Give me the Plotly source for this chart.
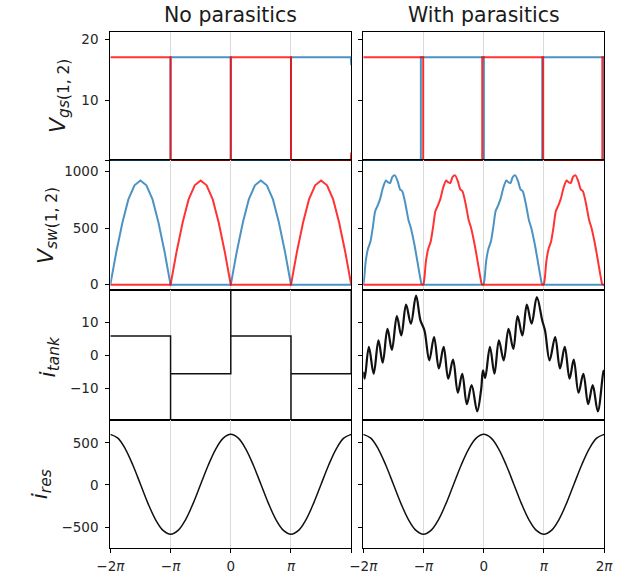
import plotly.graph_objects as go

PI = 3.141592653589793
TWO_PI = 2 * PI

# ---------------- data ----------------
col_titles = ["No parasitics", "With parasitics"]
x_tickvals_left = [-TWO_PI, -PI, 0.0, PI]
x_ticktext_left = ["\u22122<i>\u03c0</i>", "\u2212<i>\u03c0</i>", "0", "<i>\u03c0</i>"]
x_tickvals_right = [-TWO_PI, -PI, 0.0, PI, TWO_PI]
x_ticktext_right = ["\u22122<i>\u03c0</i>", "\u2212<i>\u03c0</i>", "0", "<i>\u03c0</i>", "2<i>\u03c0</i>"]

# Row 1 : gate voltages
vgs_high = 17.1
vgs_np_x = [-TWO_PI, -PI, -PI, 0.0, 0.0, PI, PI, 6.26, TWO_PI]
vgs_np_red = [vgs_high, vgs_high, 0, 0, vgs_high, vgs_high, 0, 0, 1.3]
vgs_np_blue = [0, 0, vgs_high, vgs_high, 0, 0, vgs_high, vgs_high, 15.8]

vgs_p_red_x = [-TWO_PI, -3.157, -3.157, -0.077, -0.077, 3.104, 3.104, 6.189, 6.189, TWO_PI]
vgs_p_red = [vgs_high, vgs_high, 0, 0, vgs_high, vgs_high, 0, 0, vgs_high, vgs_high]
vgs_p_blue_x = [-TWO_PI, -3.278, -3.278, 0.008, 0.008, 3.054, 3.054, 6.27, 6.27, TWO_PI]
vgs_p_blue = [0, 0, vgs_high, vgs_high, 0, 0, vgs_high, vgs_high, 0, 0]

# Row 2 : switch voltages (one pulse shape, phase in rad from pulse start)
vsw_np_phase = [0.0, 0.31, 0.63, 0.94, 1.26, 1.57, 1.88, 2.20, 2.51, 2.83, 3.14]
vsw_np_vals = [0, 290, 550, 755, 880, 923, 880, 755, 550, 290, 0]
vsw_p_phase = [0.0, 0.05, 0.13, 0.25, 0.38, 0.50, 0.62, 0.76, 0.88, 1.03, 1.18, 1.30,
               1.40, 1.52, 1.65, 1.80, 1.92, 2.04, 2.20, 2.36, 2.48, 2.64, 2.80, 2.92,
               3.03, 3.06]
vsw_p_vals = [0, 60, 210, 320, 385, 510, 650, 705, 760, 860, 922, 905,
              900, 955, 968, 912, 844, 826, 715, 570, 505, 380, 230, 110,
              10, 0]
blue_pulse_starts = [-TWO_PI, 0.0]
red_pulse_starts = [-PI, PI]

# Row 3 : tank current
itank_np_x = [-TWO_PI, -PI, -PI, -PI, 0.0, 0.0, 0.0, PI, PI, PI, TWO_PI, TWO_PI]
itank_np = [5.9, 5.9, -40, -5.6, -5.6, 40, 5.9, 5.9, -40, -5.6, -5.6, 40]

itank_p_x = [-6.283, -6.21, -5.99, -5.74, -5.49, -5.27, -5.02, -4.79, -4.53, -4.30,
             -4.05, -3.80, -3.53, -3.30, -3.09, -2.84, -2.59, -2.34, -2.09, -1.85,
             -1.60, -1.35, -1.12, -0.88, -0.63, -0.34, -0.13, -0.04, 0.074, 0.325,
             0.561, 0.793, 1.044, 1.295, 1.546, 1.767, 2.018, 2.250, 2.501, 2.772,
             3.054, 3.20, 3.44, 3.727, 3.978, 4.229, 4.48, 4.697, 4.948, 5.199,
             5.45, 5.687, 5.953, 6.24, 6.283]
itank_p = [-5.0, -7.1, 2.6, -5.6, 4.6, -2.2, 8.1, 1.7, 12.0, 6.1,
           15.5, 9.7, 18.3, 10.7, 7.6, -1.5, 5.6, -4.0, 2.6, -7.1,
           -1.3, -11.4, -5.6, -14.9, -9.1, -17.1, -10.2, -4.6, -6.9, 2.6,
           -5.6, 4.6, -1.5, 8.1, 2.0, 12.0, 6.1, 15.5, 9.7, 17.8,
           10.7, 7.6, -1.5, 5.6, -4.0, 2.6, -7.1, -1.3, -11.4, -5.6,
           -14.9, -9.1, -17.1, -5.1, -4.5]

# Row 4 : resonant current (samples every pi/8)
ires_x = [k * PI / 8 for k in range(-16, 17)]
ires = [600, 555, 426, 234, 8, -219, -411, -540, -585, -540, -411, -219, 8, 234, 426, 555,
        600, 555, 426, 234, 8, -219, -411, -540, -585, -540, -411, -219, 8, 234, 426, 555, 600]

row_ranges = [[0, 21.3], [-47, 1100], [-19.6, 20.0], [-750, 776]]
row_tickvals = [[10, 20], [0, 500, 1000], [-10, 0, 10], [-500, 0, 500]]
row_ticktext = [["10", "20"], ["0", "500", "1000"], ["\u221210", "0", "10"],
                ["\u2212500", "0", "500"]]
row_minor_ticks = [[0], [], [], []]
row_labels = ["<i>V</i><sub><i>gs</i>(1, 2)</sub>", "<i>V</i><sub><i>sw</i>(1, 2)</sub>",
              "<i>i</i><sub><i>tank</i></sub>", "<i>i</i><sub><i>res</i></sub>"]

BLUE = "rgba(31,119,180,0.8)"
RED = "rgba(255,0,0,0.8)"
BLACK = "#111111"
FONT = "DejaVu Sans"

W, H = 630, 578
col_px = [(100, 350), (362.5, 612.5)]
row_px = [(32, 161), (161, 291), (291, 421), (421, 550)]
label_pos = [(47, 96), (34, 226), (37, 358), (28, 486)]


def px_x(px):
    return px / W


def px_y(py):
    return 1 - py / H


def pulse_segments(starts, phase, vals):
    """Pulses as separate smooth pieces, flat zero pieces in between."""
    xs, ys = [], []
    prev_end = -TWO_PI
    for s in starts:
        if s > prev_end:
            xs += [prev_end, s, None]
            ys += [0, 0, None]
        for p, v in zip(phase, vals):
            xs.append(s + p)
            ys.append(v)
        xs.append(None)
        ys.append(None)
        prev_end = s + phase[-1]
    if prev_end < TWO_PI:
        xs += [prev_end, TWO_PI]
        ys += [0, 0]
    return xs, ys


def pulse_train(starts, phase, vals):
    xs, ys = [-TWO_PI], [0]
    for s in starts:
        for p, v in zip(phase, vals):
            xs.append(s + p)
            ys.append(v)
    xs.append(TWO_PI)
    ys.append(0)
    return xs, ys


fig = go.Figure()


def idx(r, c):
    return r * 2 + c + 1


def add(r, c, x, y, color, width, shape="linear", smoothing=1.0):
    i = idx(r, c)
    fig.add_trace(go.Scatter(x=x, y=y, mode="lines",
                             line=dict(color=color, width=width, shape=shape,
                                       smoothing=smoothing),
                             connectgaps=False,
                             xaxis="x%d" % i, yaxis="y%d" % i, showlegend=False,
                             hoverinfo="skip"))


# row 1
add(0, 0, vgs_np_x, vgs_np_blue, BLUE, 2)
add(0, 0, vgs_np_x, vgs_np_red, RED, 2)
add(0, 1, vgs_p_blue_x, vgs_p_blue, BLUE, 2)
add(0, 1, vgs_p_red_x, vgs_p_red, RED, 2)
# row 2
bx, by = pulse_train(blue_pulse_starts, vsw_np_phase, vsw_np_vals)
rx, ry = pulse_train(red_pulse_starts, vsw_np_phase, vsw_np_vals)
add(1, 0, bx, by, BLUE, 2)
add(1, 0, rx, ry, RED, 2)
bx, by = pulse_segments(blue_pulse_starts, vsw_p_phase, vsw_p_vals)
rx, ry = pulse_segments(red_pulse_starts, vsw_p_phase, vsw_p_vals)
add(1, 1, bx, by, BLUE, 2, "spline", 0.6)
add(1, 1, rx, ry, RED, 2, "spline", 0.6)
# row 3
add(2, 0, itank_np_x, itank_np, BLACK, 1.5)
add(2, 1, itank_p_x, itank_p, BLACK, 2.2, "spline")
# row 4
add(3, 0, ires_x, ires, BLACK, 1.5, "spline")
add(3, 1, ires_x, ires, BLACK, 1.5, "spline")

layout = dict(width=W, height=H, margin=dict(l=0, r=0, t=0, b=0),
              paper_bgcolor="white", plot_bgcolor="white",
              font=dict(family=FONT, size=13.5, color="#262626"))

for r in range(4):
    for c in range(2):
        i = idx(r, c)
        bottom = (r == 3)
        x0, x1 = col_px[c]
        y0, y1 = row_px[r]
        xa = dict(
            domain=[px_x(x0), px_x(x1)], anchor="y%d" % i, range=[-TWO_PI, TWO_PI],
            tickmode="array",
            showticklabels=bottom, ticks="outside" if bottom else "", ticklen=4,
            tickwidth=1, tickcolor="black", ticklabelstandoff=2,
            showgrid=True, gridcolor="#d9d9d9", gridwidth=1, zeroline=False,
            showline=True, mirror=True, linecolor="black", linewidth=1.2,
            layer="below traces", fixedrange=True,
            tickfont=dict(family=FONT, size=13.5, color="#262626"))
        if c == 0 and bottom:
            xa.update(tickvals=x_tickvals_left, ticktext=x_ticktext_left,
                      minor=dict(tickmode="array", tickvals=[TWO_PI], ticks="outside",
                                 ticklen=4, tickwidth=1, tickcolor="black", showgrid=False))
        else:
            xa.update(tickvals=x_tickvals_right, ticktext=x_ticktext_right)
        layout["xaxis%d" % i] = xa
        ya = dict(
            domain=[px_y(y1), px_y(y0)], anchor="x%d" % i, range=row_ranges[r],
            tickmode="array", tickvals=row_tickvals[r], ticktext=row_ticktext[r],
            showticklabels=(c == 0), ticks="outside", ticklen=4, tickwidth=1,
            ticklabelstandoff=4,
            tickcolor="black", showgrid=False, zeroline=False,
            showline=True, mirror=True, linecolor="black", linewidth=1.2,
            layer="below traces", fixedrange=True,
            tickfont=dict(family=FONT, size=13.5, color="#262626"))
        if row_minor_ticks[r]:
            ya["minor"] = dict(tickmode="array", tickvals=row_minor_ticks[r], ticks="outside",
                               ticklen=4, tickwidth=1, tickcolor="black", showgrid=False)
        layout["yaxis%d" % i] = ya

annotations = []
for c in range(2):
    x0, x1 = col_px[c]
    annotations.append(dict(text=col_titles[c], x=px_x((x0 + x1) / 2), y=px_y(15),
                            xref="paper", yref="paper", showarrow=False,
                            xanchor="center", yanchor="middle",
                            font=dict(family=FONT, size=20.5, color="#1a1a1a")))
for r in range(4):
    lx, ly = label_pos[r]
    annotations.append(dict(text=row_labels[r], x=px_x(lx), y=px_y(ly),
                            xref="paper", yref="paper", showarrow=False,
                            textangle=-90, xanchor="center", yanchor="middle",
                            font=dict(family=FONT, size=22, color="#1a1a1a")))
layout["annotations"] = annotations

fig.update_layout(**layout)
fig.write_html("out.html", config={"displayModeBar": False},
               post_script="document.body.style.margin='0px';document.body.style.padding='0px';")
